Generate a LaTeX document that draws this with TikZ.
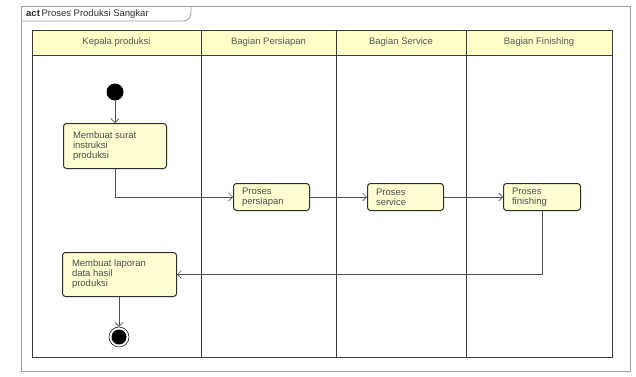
\documentclass[tikz,border=0pt]{standalone}
\usepackage{fontspec}
\setmainfont{Liberation Sans}
\usetikzlibrary{arrows.meta,positioning}
\definecolor{ink}{HTML}{2B2B2B}
\definecolor{frameline}{HTML}{A0A0A0}
\definecolor{laneline}{HTML}{3A3A3A}
\definecolor{headbg}{HTML}{FFFFC8}
\definecolor{actbg}{HTML}{FFFFD2}
\definecolor{flowline}{HTML}{505050}

\begin{document}
\begin{tikzpicture}[
  x=1pt,y=-1pt,
  font=\fontsize{9.5}{10}\selectfont,
  lanehead/.style={font=\fontsize{9.5}{10}\selectfont,text=ink!80,anchor=center},
  action/.style={draw=ink,fill=actbg,rounded corners=3pt,line width=1pt,
    align=left,anchor=north west,inner sep=0pt,text=ink!85},
  startnode/.style={circle,fill=black,minimum size=17pt,inner sep=0pt},
  endnode/.style={circle,draw=black,line width=0.5pt,minimum size=20pt,inner sep=0pt,
    path picture={\fill[black] (path picture bounding box.center) circle (7.5pt);}},
  flow/.style={-{Straight Barb[length=4pt,width=8pt]},draw=flowline,line width=0.6pt}
]
\useasboundingbox (0,0) rectangle (636,376);
\fill[white] (0,0) rectangle (636,376);

% Frame and tab
\draw[frameline,line width=0.8pt] (21,6) rectangle (630,371);
\draw[frameline,line width=0.8pt] (21,21) -- (183,21) to[out=0,in=-90] (191,13) -- (191,6);
\node[anchor=west,inner sep=0pt,text=ink] (tab) at (26,14) {\textbf{act}\,Proses Produksi Sangkar};

% Swimlanes
\fill[headbg] (32,30) rectangle (612,55);
\draw[laneline,line width=1pt] (32,30) rectangle (612,357);
\draw[laneline,line width=1pt] (32,55) -- (612,55);
\foreach \x in {201,336,466} {
  \draw[laneline,line width=1pt] (\x,30) -- (\x,357);
}
\node[lanehead] (kepala) at (116.5,42.5) {Kepala produksi};
\node[lanehead] (persiapan) at (268.5,42.5) {Bagian Persiapan};
\node[lanehead] (service) at (401,42.5) {Bagian Service};
\node[lanehead] (finishing) at (539,42.5) {Bagian Finishing};

% Actions
\node[startnode] (start) at (115,92) {};
\node[action,minimum width=103pt,minimum height=45pt] (surat) at (63,123)
  {\hspace*{8pt}\parbox[t][45pt][c]{92pt}{Membuat surat\\instruksi\\produksi}};
\node[action,minimum width=76pt,minimum height=27pt] (siap) at (233,183)
  {\hspace*{7pt}\parbox[t][27pt][c]{66pt}{Proses\\persiapan}};
\node[action,minimum width=76pt,minimum height=27pt] (serv) at (367,183)
  {\hspace*{7pt}\parbox[t][27pt][c]{66pt}{Proses\\service}};
\node[action,minimum width=77pt,minimum height=27pt] (fin) at (503,183)
  {\hspace*{7pt}\parbox[t][27pt][c]{67pt}{Proses\\finishing}};
\node[action,minimum width=114pt,minimum height=44pt] (laporan) at (62,252)
  {\hspace*{8pt}\parbox[t][44pt][c]{103pt}{Membuat laporan\\data hasil\\produksi}};
\node[endnode] (end) at (119,337) {};

% Flows
\draw[flow] (start) -- (start |- surat.north);
\draw[flow] (surat.south) |- (siap.west);
\draw[flow] (siap) -- (serv);
\draw[flow] (serv) -- (fin);
\draw[flow] (fin.south) |- (laporan.east);
\draw[flow] (laporan.south -| end) -- (end);
\end{tikzpicture}
\end{document}
